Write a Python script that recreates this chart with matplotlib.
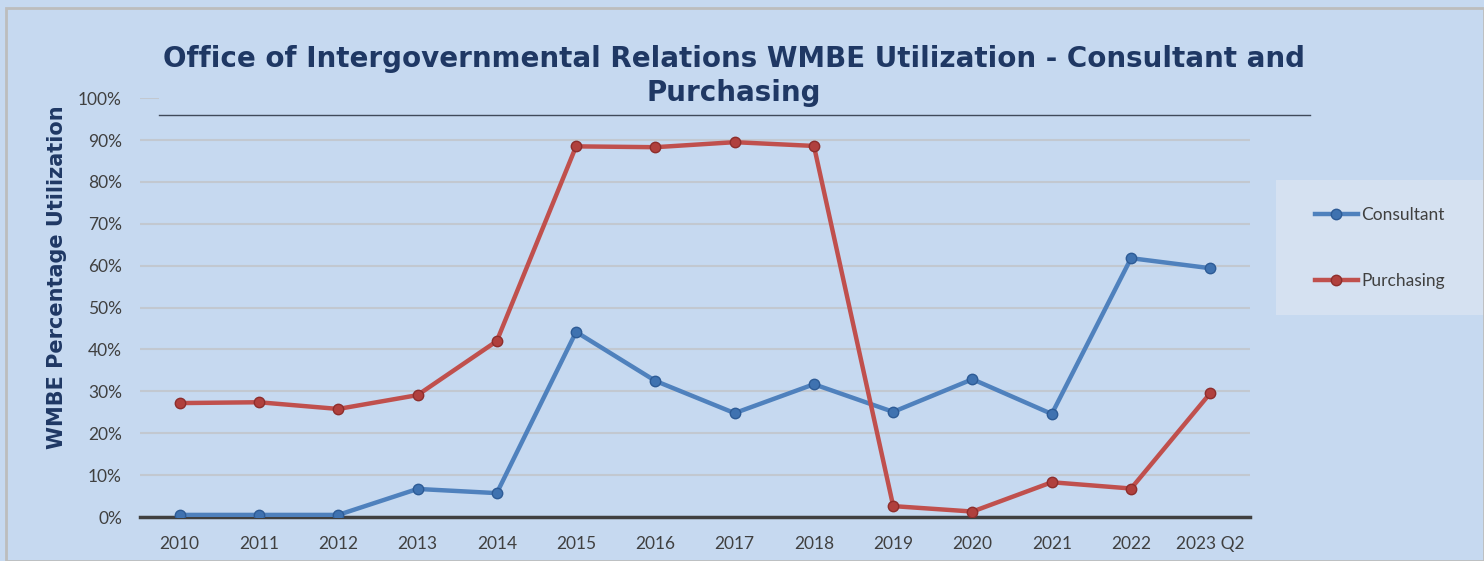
import matplotlib.pyplot as plt
from matplotlib.patches import Rectangle
from matplotlib.lines import Line2D

years = ['2010', '2011', '2012', '2013', '2014', '2015', '2016', '2017',
         '2018', '2019', '2020', '2021', '2022', '2023 Q2']
consultant = [0.5, 0.5, 0.5, 6.7, 5.7, 44.2, 32.5, 24.8, 31.7, 25.1, 32.9, 24.6, 61.8, 59.4]
purchasing = [27.2, 27.4, 25.8, 29.1, 42.0, 88.5, 88.3, 89.5, 88.6, 2.6, 1.3, 8.3, 6.8, 29.6]
yticks = [0, 10, 20, 30, 40, 50, 60, 70, 80, 90, 100]

bg = '#C6D9F0'
navy = '#1F3864'

fig = plt.figure(figsize=(14.84, 5.61), dpi=100, facecolor=bg)
ax = fig.add_axes([140 / 1484, 1 - 517 / 561, 1110 / 1484, (517 - 98.2) / 561])
ax.set_facecolor(bg)

x = range(len(years))
ax.plot(x, consultant, color='#4F81BD', lw=3.2, marker='o', ms=7.5,
        mfc='#3F72B0', mec='#2D5B96', mew=1, label='Consultant', zorder=4)
ax.plot(x, purchasing, color='#C0504D', lw=3.2, marker='o', ms=7.5,
        mfc='#B0403D', mec='#8E2E2C', mew=1, label='Purchasing', zorder=4)

ax.set_xlim(-0.5, len(years) - 0.5)
ax.set_ylim(0, 100)
ax.set_yticks(yticks)
ax.set_yticklabels([f'{v}%' for v in yticks])
ax.set_xticks(list(x))
ax.set_xticklabels(years)
ax.tick_params(length=0, labelsize=12.5, labelcolor='#404040')
ax.tick_params(axis='y', pad=13)
ax.tick_params(axis='x', pad=14)
for lbl in ax.get_xticklabels() + ax.get_yticklabels():
    lbl.set_family('Lato')
ax.grid(axis='y', color='#C2C8D0', lw=1.5)
ax.set_axisbelow(True)
for s in ['top', 'right', 'left']:
    ax.spines[s].set_visible(False)
ax.spines['bottom'].set_color('#404040')
ax.spines['bottom'].set_linewidth(2.5)
ax.spines['bottom'].set_zorder(3)

# title box covering the top gridline
fig.patches.append(Rectangle((159 / 1484, 1 - 115 / 561), (1310 - 159) / 1484, 95 / 561,
                             transform=fig.transFigure, facecolor=bg, edgecolor='none', zorder=5))
fig.lines.append(Line2D([159 / 1484, 1310 / 1484], [1 - 115 / 561] * 2,
                        transform=fig.transFigure, color='#404A5A', lw=1, zorder=6))
fig.text(734 / 1484, 1 - 76 / 561,
         'Office of Intergovernmental Relations WMBE Utilization - Consultant and\nPurchasing',
         ha='center', va='center', fontsize=20, fontweight='bold', color=navy,
         linespacing=1.3, zorder=7)

fig.text(57 / 1484, 1 - 277 / 561, 'WMBE Percentage Utilization', rotation=90,
         ha='center', va='center', fontsize=15, fontweight='bold', color=navy)

# legend
fig.patches.append(Rectangle((1276 / 1484, 1 - 315 / 561), 208 / 1484, 135 / 561,
                             transform=fig.transFigure, facecolor='#D5E1F1', edgecolor='none'))
fig.legend(loc='center', bbox_to_anchor=(1380 / 1484, 1 - 248 / 561), frameon=False,
           prop={'family': 'Lato', 'size': 12.5}, labelcolor='#404040',
           handlelength=2.5, handletextpad=0.2, labelspacing=2.9)

# outer border
fig.patches.append(Rectangle((0.004, 0.0), 0.996, 0.985, transform=fig.transFigure,
                             facecolor='none', edgecolor='#BDBDBD', lw=2))

fig.savefig('out.png', dpi=100, facecolor=bg)
